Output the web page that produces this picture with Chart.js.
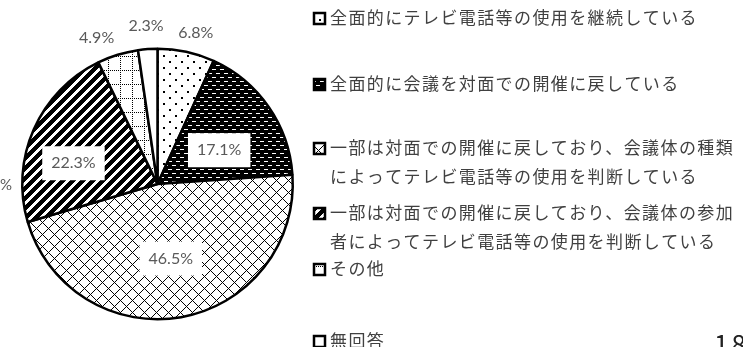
<!DOCTYPE html>
<html>
<head>
<meta charset="utf-8">
<script src="https://cdn.jsdelivr.net/npm/chart.js@4"></script>
<style>
  body { margin: 0; background: #fff; }
  #wrap { position: relative; width: 743px; height: 347px; }
</style>
</head>
<body>
<div id="wrap"><canvas id="meetingPie"></canvas></div>
<script>
// categories (legend text, one entry per line)
const categories = [
  ["全面的にテレビ電話等の使用を継続している"],
  ["全面的に会議を対面での開催に戻している"],
  ["一部は対面での開催に戻しており、会議体の種類", "によってテレビ電話等の使用を判断している"],
  ["一部は対面での開催に戻しており、会議体の参加", "者によってテレビ電話等の使用を判断している"],
  ["その他"],
  ["無回答"]
];
const shares = [6.8, 17.1, 46.5, 22.3, 4.9, 2.3];
const shareLabels = ["6.8%", "17.1%", "46.5%", "22.3%", "4.9%", "2.3%"];

// label placement: radius factor, angle nudge (deg), white box behind
const labelPlace = [
  { r: 1.15, a: 2, box: false },
  { r: 0.52, a: 6, box: true },
  { r: 0.56, a: 0, box: true },
  { r: 0.64, a: -10, box: true },
  { r: 1.17, a: -5.5, box: false },
  { r: 1.17, a: 0, box: false }
];
const legendY = [18, 84, 148, 213, 269, 341];

const tmp = document.createElement("canvas").getContext("2d");
function pat(w, h, draw) {
  const c = document.createElement("canvas");
  c.width = w; c.height = h;
  const g = c.getContext("2d");
  g.fillStyle = "#fff"; g.fillRect(0, 0, w, h);
  g.fillStyle = "#000";
  draw(g, w, h);
  return tmp.createPattern(c, "repeat");
}

const fills = [
  // sparse dots
  pat(12, 12, g => { g.fillRect(1, 1, 2, 2); g.fillRect(7, 7, 2, 2); }),
  // dark with white dashes
  pat(8, 8, g => {
    g.fillRect(0, 0, 8, 8);
    g.fillStyle = "#fff";
    g.fillRect(0, 1, 4, 1);
    g.fillRect(4, 5, 4, 1);
  }),
  // diagonal crosshatch
  pat(12, 12, (g, w) => {
    for (let x = 0; x < w; x++) {
      for (let y = 0; y < w; y++) {
        if ((x + y) % 12 === 0 || (x - y + 12) % 12 === 0) g.fillRect(x, y, 1, 1);
      }
    }
  }),
  // wide upward diagonal
  pat(10, 10, (g, w) => {
    for (let x = 0; x < w; x++) {
      for (let y = 0; y < w; y++) {
        if ((x + y) % 10 < 6) g.fillRect(x, y, 1, 1);
      }
    }
  }),
  // dotted grid
  pat(12, 14, (g, w, h) => {
    for (let y = 0; y < h; y += 2) g.fillRect(0, y, 1, 1);
    for (let x = 0; x < w; x += 2) g.fillRect(x, 0, 1, 1);
  }),
  "#ffffff"
];

const labelPlugin = {
  id: "pieLabels",
  afterDatasetsDraw(chart) {
    const ctx = chart.ctx;
    const arcs = chart.getDatasetMeta(0).data;
    ctx.save();
    ctx.font = "16px Lato";
    ctx.textAlign = "center";
    ctx.textBaseline = "middle";
    arcs.forEach((arc, i) => {
      const p = labelPlace[i];
      const mid = (arc.startAngle + arc.endAngle) / 2 + p.a * Math.PI / 180;
      const r = arc.outerRadius * p.r;
      const x = arc.x + Math.cos(mid) * r;
      const y = arc.y + Math.sin(mid) * r;
      const text = shareLabels[i];
      if (p.box) {
        const w = ctx.measureText(text).width + 18;
        ctx.fillStyle = "#fff";
        ctx.fillRect(x - w / 2, y - 17, w, 34);
      }
      ctx.fillStyle = "#595959";
      ctx.fillText(text, x, y);
    });
    ctx.restore();
  }
};

const legendPlugin = {
  id: "sideLegend",
  afterDraw(chart) {
    const ctx = chart.ctx;
    ctx.save();
    ctx.font = "17px 'Noto Sans CJK JP'";
    ctx.letterSpacing = "1.4px";
    ctx.textBaseline = "middle";
    categories.forEach((lines, i) => {
      const y = legendY[i];
      ctx.fillStyle = fills[i];
      ctx.fillRect(314, y - 5, 11, 11);
      ctx.strokeStyle = "#000";
      ctx.lineWidth = 2.5;
      ctx.strokeRect(314, y - 5, 11, 11);
      ctx.fillStyle = "#404040";
      lines.forEach((line, k) => ctx.fillText(line, 330, y + k * 29));
    });
    // fragments at the crop edges
    ctx.letterSpacing = "0px";
    ctx.font = "15px Lato";
    ctx.fillStyle = "#595959";
    ctx.textAlign = "right";
    ctx.fillText("0%", 12, 185);
    ctx.font = "26px 'Noto Sans CJK JP'";
    ctx.fillStyle = "#222";
    ctx.textAlign = "left";
    ctx.textBaseline = "alphabetic";
    ctx.letterSpacing = "3px";
    ctx.fillText("18", 714, 354);
    ctx.restore();
  }
};

const ctx = document.getElementById("meetingPie");

const meetingPie = new Chart(ctx, {
  type: "pie",
  data: {
    labels: categories,
    datasets: [
      {
        data: shares,
        backgroundColor: fills,
        borderColor: "#000",
        borderWidth: 2.5
      }
    ]
  },
  options: {
    responsive: true,
    maintainAspectRatio: false,
    animation: false,
    layout: {
      padding: {
        left: 21,
        right: 449,
        top: 47,
        bottom: 26
      }
    },
    plugins: {
      legend: { display: false },
      tooltip: { enabled: false },
      title: { display: false }
    }
  },
  plugins: [labelPlugin, legendPlugin]
});
</script>
</body>
</html>
